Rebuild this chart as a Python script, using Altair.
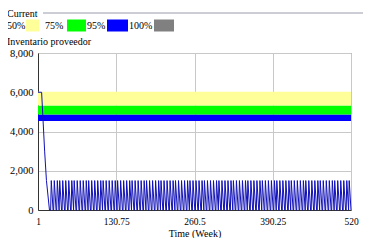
import altair as alt
import pandas as pd

# ---- data ----
start_weeks = [1, 7, 12, 15, 20]
start_values = [6000, 6000, 3000, 1500, 0]
spike_weeks = [22, 27, 32, 36, 41, 46, 51, 56, 60, 65, 70, 75, 80, 84, 89, 94, 99,
               104, 108, 113, 118, 123, 128, 132, 137, 142, 147, 152, 156, 161, 166,
               171, 176, 180, 185, 190, 195, 200, 204, 209, 214, 219, 224, 228, 233,
               238, 243, 248, 252, 257, 262, 267, 272, 276, 281, 286, 291, 296, 300,
               305, 310, 315, 320, 324, 329, 334, 339, 344, 348, 353, 358, 363, 368,
               372, 377, 382, 387, 392, 396, 401, 406, 411, 416, 420, 425, 430, 435,
               440, 444, 449, 454, 459, 464, 468, 473, 478, 483, 488, 492, 497, 502,
               507, 512, 516]
spike_peak = 1500

band_names = ["95%", "75%", "50%"]
band_low = [4530, 4870, 5330]
band_high = [4870, 5330, 6020]
band_colors = ["#0000ff", "#00ff00", "#ffff99"]

legend_labels = ["50%", "75%", "95%", "100%"]
legend_colors = ["#ffff99", "#00ff00", "#0000ff", "#808080"]

x_ticks = [1, 130.75, 260.5, 390.25, 520]
y_ticks = [0, 2000, 4000, 6000, 8000]

FONT = "Liberation Serif"

# ---- build the run series ----
t, v = list(start_weeks), list(start_values)
for w in spike_weeks:
    t += [w, w + 1, w + 4]
    v += [0, spike_peak, 0]
line_df = pd.DataFrame({"t": t, "v": v, "i": range(len(t))})

band_df = pd.DataFrame({"name": band_names, "lo": band_low, "hi": band_high,
                        "c": band_colors, "x0": [1] * 3, "x1": [520] * 3})

xs = alt.Scale(domain=[1, 520], nice=False, zero=False)
ys = alt.Scale(domain=[0, 8000], nice=False)

axis_common = dict(grid=True, labelOverlap=False, labelFont=FONT, titleFont=FONT,
                   titleFontWeight="normal", labelColor="black", titleColor="black",
                   gridColor="#c8c8c8", domainColor="#333333", ticks=False)
axis_x = alt.Axis(values=x_ticks, labelExpr="'' + datum.value",
                  title="Time (Week)", titlePadding=3, labelFlush=False,
                  labelFontSize=9.5, titleFontSize=10, labelPadding=6, **axis_common)
axis_y = alt.Axis(values=y_ticks, labelExpr="format(datum.value, ',')",
                  title=None, labelFontSize=10.5, labelPadding=5, **axis_common)

bands = alt.Chart(band_df).mark_rect().encode(
    x=alt.X("x0:Q", scale=xs, axis=axis_x),
    x2="x1:Q",
    y=alt.Y("lo:Q", scale=ys, axis=axis_y),
    y2="hi:Q",
    color=alt.Color("c:N", scale=None),
)

line = alt.Chart(line_df).mark_line(color="#1010b8", strokeWidth=1).encode(
    x=alt.X("t:Q", scale=xs, axis=axis_x),
    y=alt.Y("v:Q", scale=ys, axis=axis_y),
    order="i:Q",
)

layers = [bands, line]

# ---- header (legend drawn above the plot) ----
one = pd.DataFrame({"a": [0]})
txt = dict(font=FONT, fontSize=10, color="black", align="left", baseline="alphabetic")

layers.append(alt.Chart(one).mark_text(**txt).encode(
    x=alt.value(-31), y=alt.value(-36), text=alt.value("Current")))
layers.append(alt.Chart(one).mark_rule(color="#9a9aaa", strokeWidth=1).encode(
    x=alt.value(5), x2=alt.value(337), y=alt.value(-40)))

lx_text = [-31, 7, 49, 91]
lx_sw = [(-12, 1), (29, 48), (69, 90), (116, 136)]
for lab, col, xt, (a, b) in zip(legend_labels, legend_colors, lx_text, lx_sw):
    layers.append(alt.Chart(one).mark_text(**txt).encode(
        x=alt.value(xt), y=alt.value(-24), text=alt.value(lab)))
    layers.append(alt.Chart(one).mark_rect(color=col).encode(
        x=alt.value(a), x2=alt.value(b), y=alt.value(-33.5), y2=alt.value(-21.5)))

layers.append(alt.Chart(one).mark_text(**txt).encode(
    x=alt.value(-31), y=alt.value(-8), text=alt.value("Inventario proveedor")))

chart = alt.layer(*layers).properties(
    width=313, height=157,
    autosize=alt.AutoSizeParams(type="none"),
    padding={"left": 30, "top": 45, "right": 12, "bottom": 28},
).configure(
    font=FONT
).configure_view(
    stroke="#808080", strokeWidth=1
)

chart.save("out.html", embed_options={"renderer": "svg", "actions": False})
